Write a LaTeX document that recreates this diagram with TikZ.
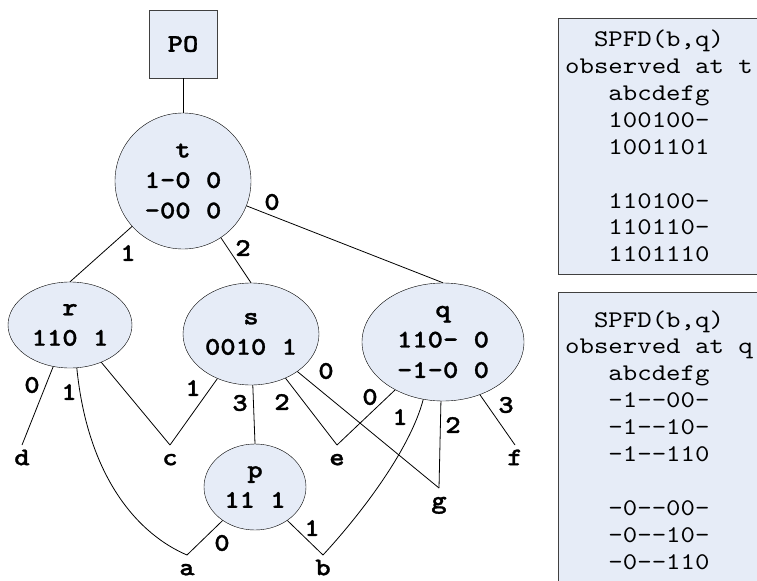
\documentclass[tikz,border=0pt]{standalone}
\usepackage{fontspec}
\setmonofont{lmmono10-regular.otf}[BoldFont=lmmonolt10-bold.otf, BoldFeatures={FakeBold=1.2}, FakeStretch=1.15]
\usetikzlibrary{shapes.geometric}
\definecolor{paleblue}{RGB}{230,236,247}
\definecolor{rim}{RGB}{64,64,64}
\tikzset{
  gate/.style={ellipse, draw=black, fill=paleblue, inner sep=0pt, align=center,
    font=\ttfamily\bfseries\fontsize{25.5}{30.5}\selectfont},
  pobox/.style={rectangle, draw=rim, fill=paleblue, inner sep=0pt,
    minimum width=68bp, minimum height=68bp, font=\ttfamily\bfseries\fontsize{25.5}{30.5}\selectfont},
  leaf/.style={anchor=north, inner xsep=0pt, inner ysep=1bp, text height=19bp, text depth=0pt,
    font=\ttfamily\bfseries\fontsize{25.5}{30.5}\selectfont},
  edgelbl/.style={inner sep=0pt, font=\ttfamily\bfseries\fontsize{25.5}{30.5}\selectfont},
  spfd/.style={rectangle, draw=rim, fill=paleblue, align=center, inner sep=0pt,
    font=\ttfamily\fontsize{24}{27}\selectfont},
  wire/.style={draw=black, line width=0.8bp}
}
\begin{document}
\begin{tikzpicture}[x=1bp, y=-1bp]
\clip (0,0) rectangle (757,581);
\fill[white] (0,0) rectangle (757,581);

% gates
\node[pobox] (po) at (183,44) {PO};
\node[gate, circle, minimum size=136bp] (t) at (183,181) {t\\1-0 0\\-00 0};
\node[gate, minimum width=124bp, minimum height=86bp] (r) at (70,325) {r\\110 1};
\node[gate, minimum width=136bp, minimum height=102bp] (s) at (251,334) {s\\0010 1};
\node[gate, minimum width=162bp, minimum height=118bp] (q) at (443,342) {q\\110- 0\\-1-0 0};
\node[gate, minimum width=102bp, minimum height=86bp] (p) at (255,487) {p\\11 1};

% primary inputs
\node[leaf] (d) at (22,445) {d};
\node[leaf] (c) at (170,445) {c};
\node[leaf] (e) at (337,445) {e};
\node[leaf] (f) at (515,445) {f};
\node[leaf] (g) at (439,488) {g};
\node[leaf] (a) at (187,555) {a};
\node[leaf] (b) at (323,555) {b};

% connections
\draw[wire] (po) -- (t);
\draw[wire] (t) -- (r.north);
\draw[wire] (t) -- (s.north);
\draw[wire] (t) -- (q.north);

\draw[wire] (r.248) -- (d.north);
\draw[wire] (r.279) .. controls (88,480) and (140,535) .. (a.north);
\draw[wire] (r.310) -- (c.north);

\draw[wire] (s.233) -- (c.north);
\draw[wire] (s.272) -- (p.north);
\draw[wire] (s.308) -- (e.north);
\draw[wire] (s.321) -- (g.north);

\draw[wire] (q.225) -- (e.north);
\draw[wire] (q.251) .. controls (410,450) and (360,515) .. (b.north);
\draw[wire] (q.268) -- (g.north);
\draw[wire] (q.305) -- (f.north);

\draw[wire] (p.226) -- (a.north);
\draw[wire] (p.314) -- (b.north);

% fanin indices
\node[edgelbl] (lt1) at (128,253) {1};
\node[edgelbl] (lt2) at (243,248) {2};
\node[edgelbl] (lt0) at (272,202) {0};
\node[edgelbl] (lr0) at (32,385) {0};
\node[edgelbl] (lr1) at (69,392) {1};
\node[edgelbl] (ls1) at (193,388) {1};
\node[edgelbl] (ls3) at (240,403) {3};
\node[edgelbl] (ls2) at (282,402) {2};
\node[edgelbl] (ls0) at (326,371) {0};
\node[edgelbl] (lq0) at (370,397) {0};
\node[edgelbl] (lq1) at (400,417) {1};
\node[edgelbl] (lq2) at (453,425) {2};
\node[edgelbl] (lq3) at (506,405) {3};
\node[edgelbl] (lp0) at (222,543) {0};
\node[edgelbl] (lp1) at (312,528) {1};

% SPFD tables
\node[spfd, minimum width=202bp, minimum height=256bp] (spt) at (659,146)
  {SPFD(b,q)\\observed at t\\abcdefg\\100100-\\1001101\\[27bp]110100-\\110110-\\1101110};
\node[spfd, minimum width=202bp, minimum height=296bp] (spq) at (659,440)
  {SPFD(b,q)\\observed at q\\abcdefg\\-1--00-\\-1--10-\\-1--110\\[27bp]-0--00-\\-0--10-\\-0--110};
\end{tikzpicture}
\end{document}
